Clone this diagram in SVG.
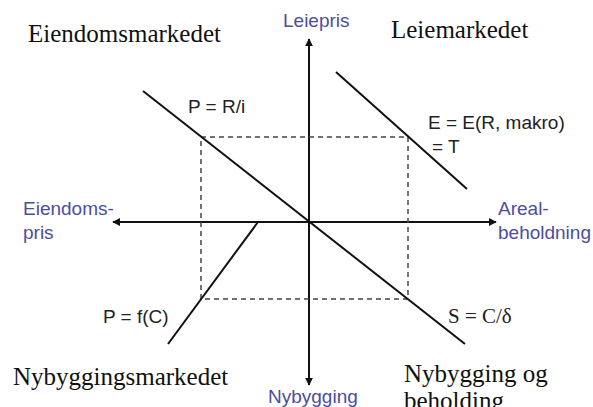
<svg xmlns="http://www.w3.org/2000/svg" width="593" height="407" viewBox="0 0 593 407">
<style>
.title{font-family:"Liberation Serif","Times New Roman",serif;font-size:25px;fill:#111}
.axis{font-family:"Liberation Sans",Arial,sans-serif;font-size:19px;fill:#4d4d9f}
.lbl{font-family:"Liberation Sans",Arial,sans-serif;font-size:19px;fill:#222}
.curve{stroke:#111;stroke-width:2;fill:none}
.ax{stroke:#111;stroke-width:2;fill:none}
.dash{stroke:#444;stroke-width:1.5;stroke-dasharray:5 4;fill:none}
</style>
<defs>
<marker id="arr" viewBox="0 0 10 10" refX="9" refY="5" markerWidth="4" markerHeight="4" orient="auto" markerUnits="strokeWidth">
<path d="M0,0 L10,5 L0,10 z" fill="#111"/>
</marker>
</defs>
<rect width="593" height="407" fill="#fff"/>
<g id="connectors">
<line class="ax" x1="309" y1="222" x2="309" y2="39" marker-end="url(#arr)"/>
<line class="ax" x1="309" y1="222" x2="309" y2="385" marker-end="url(#arr)"/>
<line class="ax" x1="309" y1="222" x2="113" y2="222" marker-end="url(#arr)"/>
<line class="ax" x1="309" y1="222" x2="496" y2="222" marker-end="url(#arr)"/>
<rect class="dash" x="201" y="137" width="207" height="162"/>
<line class="curve" x1="143" y1="91" x2="465" y2="344"/>
<line class="curve" x1="336" y1="72" x2="467" y2="189"/>
<line class="curve" x1="258" y1="222" x2="168" y2="344"/>
</g>
<g id="eiendomsmarkedet"><text class="title" x="28" y="42">Eiendomsmarkedet</text></g>
<g id="leiemarkedet"><text class="title" x="391" y="38">Leiemarkedet</text></g>
<g id="nybyggingsmarkedet"><text class="title" x="13" y="385">Nybyggingsmarkedet</text></g>
<g id="nybygging-beholding"><text class="title" x="404" y="382">Nybygging og</text><text class="title" x="404" y="409">beholding</text></g>
<g id="leiepris"><text class="axis" x="283" y="27">Leiepris</text></g>
<g id="eiendomspris"><text class="axis" x="23" y="215">Eiendoms-</text><text class="axis" x="23" y="239">pris</text></g>
<g id="arealbeholdning"><text class="axis" x="498" y="215">Areal-</text><text class="axis" x="498" y="239">beholdning</text></g>
<g id="nybygging"><text class="axis" x="268" y="403">Nybygging</text></g>
<g id="p-ri"><text class="lbl" x="188" y="113">P = R/i</text></g>
<g id="e-makro"><text class="lbl" x="428" y="129">E = E(R, makro)</text><text class="lbl" x="432" y="153">= T</text></g>
<g id="p-fc"><text class="lbl" x="103" y="323">P = f(C)</text></g>
<g id="s-cd"><text x="448" y="323" style="font-family:'Liberation Serif','Times New Roman',serif;font-size:21px;fill:#222">S = C/δ</text></g>
</svg>
